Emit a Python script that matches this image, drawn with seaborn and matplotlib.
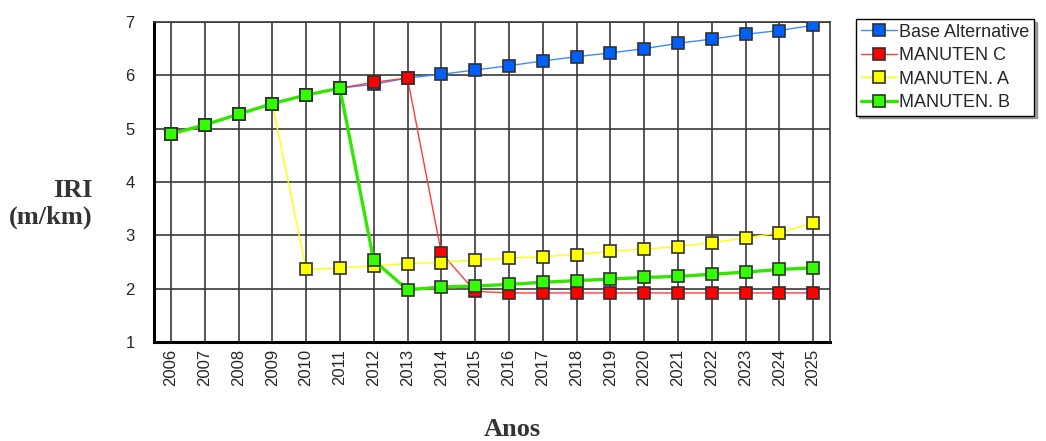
import pandas as pd
import matplotlib
matplotlib.use('Agg')
import matplotlib.pyplot as plt
import seaborn as sns

sns.set_style('white')
plt.rcParams['font.family'] = ['Liberation Sans', 'DejaVu Sans']

# dados
anos = list(range(2006, 2026))
base = [4.90, 5.07, 5.27, 5.47, 5.63, 5.76, 5.83, 5.95, 6.02, 6.10,
        6.18, 6.27, 6.35, 6.42, 6.50, 6.60, 6.68, 6.77, 6.84, 6.94]
manut_c = [4.90, 5.07, 5.27, 5.47, 5.63, 5.76, 5.87, 5.95, 2.67, 1.95,
           1.92, 1.92, 1.92, 1.92, 1.92, 1.92, 1.92, 1.92, 1.92, 1.92]
manut_a = [4.90, 5.07, 5.27, 5.47, 2.36, 2.39, 2.43, 2.47, 2.49, 2.54,
           2.57, 2.60, 2.64, 2.70, 2.74, 2.79, 2.86, 2.95, 3.05, 3.23]
manut_b = [4.90, 5.07, 5.27, 5.47, 5.63, 5.76, 2.53, 1.98, 2.03, 2.05,
           2.08, 2.12, 2.15, 2.18, 2.21, 2.23, 2.27, 2.31, 2.36, 2.39]

series = [
    ('Base Alternative', base, '#3d8bff', '#0060ff', 1.0),
    ('MANUTEN C', manut_c, '#ff3b3b', '#ff0000', 1.0),
    ('MANUTEN. A', manut_a, '#ffff00', '#ffff00', 1.0),
    ('MANUTEN. B', manut_b, '#33e600', '#33ff00', 2.4),
]

fig = plt.figure(figsize=(10.46, 4.41), dpi=100)
ax = fig.add_axes([154 / 1046, 99 / 441, 676 / 1046, 320 / 441])

for nome, vals, cor_linha, cor_marc, lw in series:
    df = pd.DataFrame({'Ano': anos, 'IRI': vals})
    sns.lineplot(data=df, x='Ano', y='IRI', ax=ax, color=cor_linha, linewidth=lw,
                 marker='s', markersize=9, markerfacecolor=cor_marc,
                 markeredgecolor='#303030', markeredgewidth=1.2, label=nome, zorder=3)

ax.set_xlim(2005.5, 2025.5)
ax.set_ylim(1, 7)
ax.set_xticks(anos)
ax.set_xticklabels([str(a) for a in anos], rotation=90, fontsize=12)
ax.set_yticks(range(1, 8))
ax.tick_params(axis='y', labelsize=12, length=0, pad=14)
ax.tick_params(axis='x', length=0, pad=5)
ax.grid(True, color='#3a3a3a', linewidth=1.2)
ax.set_axisbelow(True)
ax.set_xlabel('')
ax.set_ylabel('')

for s in ['left', 'bottom']:
    ax.spines[s].set_color('black')
    ax.spines[s].set_linewidth(2.2)
for s in ['top', 'right']:
    ax.spines[s].set_color('#3a3a3a')
    ax.spines[s].set_linewidth(1.2)

handles, labels = ax.get_legend_handles_labels()
ax.legend_.remove()
leg = fig.legend(handles, labels, loc='upper left', bbox_to_anchor=(856 / 1046, 1 - 19 / 441),
                 fontsize=13, frameon=True, fancybox=False, shadow=True,
                 edgecolor='black', handlelength=2.0, handletextpad=0.15,
                 labelspacing=0.36, borderpad=0.25, borderaxespad=0)
leg.get_frame().set_linewidth(1.0)

fig.text(93 / 1046, 1 - 204 / 441, 'IRI\n(m/km)', ha='right', va='center',
         multialignment='right', fontsize=19, fontweight='bold',
         family=['Liberation Serif', 'DejaVu Serif'], color='#333333')
fig.text(512 / 1046, 1 - 430 / 441, 'Anos', ha='center', va='center',
         fontsize=19, fontweight='bold', family=['Liberation Serif', 'DejaVu Serif'],
         color='#333333')

fig.savefig('out.png', dpi=100)
